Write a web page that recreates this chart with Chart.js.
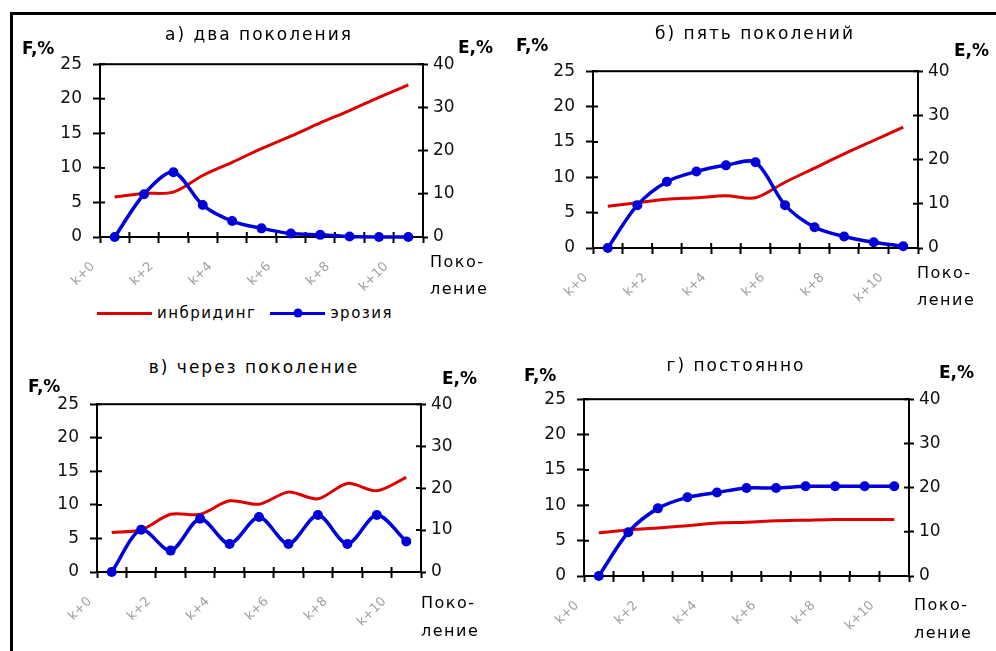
<!DOCTYPE html>
<html>
<head>
<meta charset="utf-8">
<script src="https://cdn.jsdelivr.net/npm/chart.js@4.4.1/dist/chart.umd.min.js"></script>
<style>
  body { margin: 0; background: #fff; }
  #page { position: relative; width: 996px; height: 651px; overflow: hidden; background: #fff; }
  #frame { position: absolute; left: 10px; top: 12px; right: 0; bottom: 0; border-top: 3px solid #000; border-left: 3px solid #000; }
  canvas { position: absolute; }
  .t { position: absolute; font-family: 'DejaVu Sans', sans-serif; white-space: nowrap; line-height: 1; color: #000; transform: translateY(-50%); }
  .title { font-size: 17px; letter-spacing: 2px; transform: translate(-50%, -50%); }
  .ax { font-size: 17px; font-weight: bold; }
  .gen { font-size: 16px; letter-spacing: 1.5px; }
  #legend { position: absolute; left: 97px; top: 313px; transform: translateY(-50%); display: flex; align-items: center;
            font-family: 'DejaVu Sans', sans-serif; font-size: 15px; letter-spacing: 1.5px; }
  #legend .line { display: inline-block; height: 3px; width: 55px; position: relative; }
  #legend .dot { position: absolute; left: 50%; top: 50%; width: 9px; height: 9px; border-radius: 50%; transform: translate(-50%, -50%); }
</style>
</head>
<body>
<div id="page">
  <div id="frame"></div>
  <div id="legend"></div>
</div>

<script>
// categories (generations) and axis ticks
const categories = ['k+0', 'k+1', 'k+2', 'k+3', 'k+4', 'k+5', 'k+6', 'k+7', 'k+8', 'k+9', 'k+10'];
const fTicks = [0, 5, 10, 15, 20, 25];
const eTicks = [0, 10, 20, 30, 40];
const seriesNames = ['инбридинг', 'эрозия'];

// а) два поколения
const inbreedingA = [5.8, 6.3, 6.5, 8.9, 10.8, 12.8, 14.6, 16.5, 18.3, 20.2, 22.0];
const erosionA = [0, 9.9, 15.0, 7.4, 3.7, 2.0, 0.8, 0.5, 0.1, 0, 0];
// б) пять поколений
const inbreedingB = [5.9, 6.4, 6.9, 7.1, 7.4, 7.1, 9.3, 11.3, 13.3, 15.2, 17.1];
const erosionB = [0, 9.7, 15.0, 17.3, 18.7, 19.4, 9.7, 4.7, 2.6, 1.3, 0.4];
// в) через поколение
const inbreedingC = [5.9, 6.3, 8.6, 8.6, 10.6, 10.1, 11.9, 10.9, 13.2, 12.1, 14.1];
const erosionC = [0, 10.1, 5.1, 12.7, 6.7, 13.1, 6.7, 13.6, 6.7, 13.6, 7.3];
// г) постоянно
const inbreedingD = [6.1, 6.5, 6.8, 7.1, 7.5, 7.6, 7.8, 7.9, 8.0, 8.0, 8.0];
const erosionD = [0, 9.9, 15.3, 17.8, 18.9, 19.9, 19.9, 20.3, 20.3, 20.3, 20.3];

const RED = '#dc0000';
const BLUE = '#0000d8';
const FONT = "'DejaVu Sans', sans-serif";

// plot rectangles on the page
const panels = [
  { title: 'а) два поколения', f: inbreedingA, e: erosionA, area: { left: 100, top: 63, right: 423, bottom: 237 },
    titleAt: [259, 34], fAt: [22, 48], eAt: [458, 47], genAt: [430, 262, 289] },
  { title: 'б) пять поколений', f: inbreedingB, e: erosionB, area: { left: 593, top: 70, right: 918, bottom: 248 },
    titleAt: [755, 33], fAt: [516, 45], eAt: [954, 50], genAt: [917, 273, 300] },
  { title: 'в) через поколение', f: inbreedingC, e: erosionC, area: { left: 97, top: 403, right: 421, bottom: 572 },
    titleAt: [254, 367], fAt: [28, 386], eAt: [442, 378], genAt: [421, 603, 631] },
  { title: 'г) постоянно', f: inbreedingD, e: erosionD, area: { left: 584, top: 398, right: 909, bottom: 576 },
    titleAt: [736, 365], fAt: [524, 375], eAt: [939, 372], genAt: [914, 605, 633] },
];

const SIDE = 70, TOP = 20, BOTTOM = 70;

// frame around the plot area plus the inner half of the cross tick marks
const crossTicks = {
  id: 'crossTicks',
  beforeDatasetsDraw(chart) {
    const { ctx, chartArea: a, scales } = chart;
    ctx.save();
    ctx.strokeStyle = '#000';
    ctx.lineWidth = 2;
    ctx.strokeRect(a.left, a.top, a.right - a.left, a.bottom - a.top);
    ctx.beginPath();
    const x = scales.x;
    const step = x.getPixelForValue(1) - x.getPixelForValue(0);
    for (let i = 0; i <= categories.length; i++) {
      const px = x.getPixelForValue(i) - step / 2;
      ctx.moveTo(px, a.bottom);
      ctx.lineTo(px, a.bottom - 5);
    }
    scales.f.ticks.forEach(t => {
      const py = scales.f.getPixelForValue(t.value);
      ctx.moveTo(a.left, py);
      ctx.lineTo(a.left + 5, py);
    });
    scales.e.ticks.forEach(t => {
      const py = scales.e.getPixelForValue(t.value);
      ctx.moveTo(a.right, py);
      ctx.lineTo(a.right - 5, py);
    });
    ctx.stroke();
    ctx.restore();
  }
};

const page = document.getElementById('page');

function addText(cls, text, x, y) {
  const d = document.createElement('div');
  d.className = 't ' + cls;
  d.textContent = text;
  d.style.left = x + 'px';
  d.style.top = y + 'px';
  page.appendChild(d);
}

function makeChart(p) {
  const a = p.area;
  const cv = document.createElement('canvas');
  const w = a.right - a.left + SIDE * 2;
  const h = a.bottom - a.top + TOP + BOTTOM;
  cv.width = w;
  cv.height = h;
  cv.style.left = (a.left - SIDE) + 'px';
  cv.style.top = (a.top - TOP) + 'px';
  cv.style.width = w + 'px';
  cv.style.height = h + 'px';
  page.appendChild(cv);

  const yTickFont = { family: FONT, size: 17 };

  new Chart(cv, {
    type: 'line',
    data: {
      labels: categories,
      datasets: [{
        label: seriesNames[0],
        data: p.f,
        yAxisID: 'f',
        borderColor: RED,
        borderWidth: 3,
        pointRadius: 0,
        tension: 0.3,
        order: 1,
        clip: false
      }, {
        label: seriesNames[1],
        data: p.e,
        yAxisID: 'e',
        borderColor: BLUE,
        backgroundColor: BLUE,
        borderWidth: 3.5,
        pointRadius: 5,
        pointBorderWidth: 0,
        pointBackgroundColor: BLUE,
        tension: 0.3,
        order: 0,
        clip: false
      }]
    },
    options: {
      responsive: false,
      animation: false,
      devicePixelRatio: 1,
      layout: { padding: { top: TOP, left: 0, right: 0, bottom: 0 } },
      plugins: { legend: { display: false }, tooltip: { enabled: false } },
      scales: {
        x: {
          offset: true,
          grid: { offset: true, drawOnChartArea: false, tickLength: 6, tickWidth: 2, tickColor: '#000' },
          border: { color: '#000', width: 2 },
          ticks: {
            autoSkip: false, minRotation: 45, maxRotation: 45, padding: 16, labelOffset: -22,
            color: '#a0a0a0', font: { family: FONT, size: 13 },
            callback: (v, i) => (i % 2 === 0 ? categories[i] : '')
          },
          afterFit: s => { s.height = BOTTOM; }
        },
        f: {
          position: 'left',
          min: fTicks[0], max: fTicks[fTicks.length - 1],
          grid: { drawOnChartArea: false, tickLength: 7, tickWidth: 2, tickColor: '#000' },
          border: { color: '#000', width: 2 },
          ticks: { stepSize: fTicks[1] - fTicks[0], padding: 11, color: '#111', font: yTickFont },
          afterFit: s => { s.width = SIDE; }
        },
        e: {
          position: 'right',
          min: eTicks[0], max: eTicks[eTicks.length - 1],
          grid: { drawOnChartArea: false, tickLength: 5, tickWidth: 2, tickColor: '#000' },
          border: { color: '#000', width: 2 },
          ticks: { stepSize: eTicks[1] - eTicks[0], padding: 5, color: '#111', font: yTickFont },
          afterFit: s => { s.width = SIDE; }
        }
      }
    },
    plugins: [crossTicks]
  });

  addText('title', p.title, p.titleAt[0], p.titleAt[1]);
  addText('ax', 'F,%', p.fAt[0], p.fAt[1]);
  addText('ax', 'E,%', p.eAt[0], p.eAt[1]);
  addText('gen', 'Поко-', p.genAt[0], p.genAt[1]);
  addText('gen', 'ление', p.genAt[0], p.genAt[2]);
}

panels.forEach(makeChart);

// legend under the first panel
const legend = document.getElementById('legend');
[RED, BLUE].forEach((c, i) => {
  const line = document.createElement('span');
  line.className = 'line';
  line.style.background = c;
  line.style.marginLeft = i === 0 ? '0' : '14px';
  if (i === 1) {
    const dot = document.createElement('span');
    dot.className = 'dot';
    dot.style.background = c;
    line.appendChild(dot);
  }
  const label = document.createElement('span');
  label.textContent = seriesNames[i];
  label.style.marginLeft = '5px';
  legend.appendChild(line);
  legend.appendChild(label);
});
</script>
</body>
</html>
